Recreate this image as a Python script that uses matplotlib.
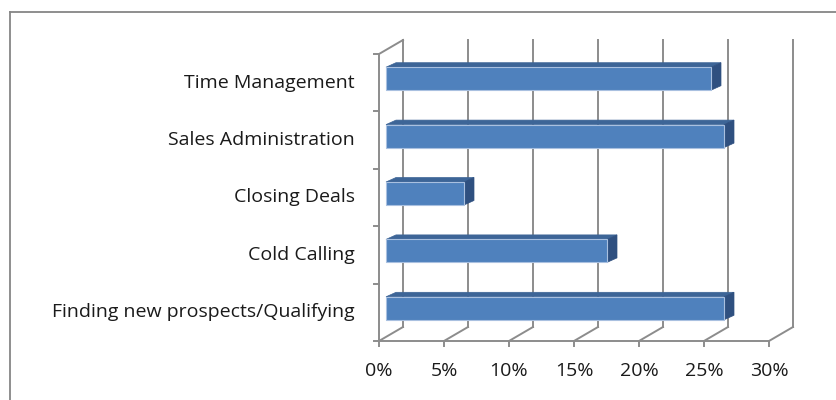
import numpy as np
import matplotlib
matplotlib.use("Agg")
import matplotlib.pyplot as plt
from matplotlib.patches import Polygon, Rectangle

# data (bottom to top, like the chart)
categories = ["Finding new prospects/Qualifying", "Cold Calling", "Closing Deals",
              "Sales Administration", "Time Management"]
values = [26, 17, 6, 26, 25]          # percent
xticks = [0, 5, 10, 15, 20, 25, 30]
xticklabels = ["0%", "5%", "10%", "15%", "20%", "25%", "30%"]

# pixel layout of the picture
W, H = 837, 400
x0_px, px_per_pct = 379, 13.0        # front plane: 0% at x=379
base_px, px_per_cat = 341, 57.4      # front plane bottom, height of one category

def cx(px):  # pixel x -> data x
    return (px - x0_px) / px_per_pct

def cy(py):  # pixel y -> data y
    return (base_px - py) / px_per_cat

# 3D offsets (pixels converted to data units)
wall_dx, wall_dy = 24 / px_per_pct, 14 / px_per_cat
bar_off_dx, bar_off_dy = 7 / px_per_pct, 4 / px_per_cat
bar_dx, bar_dy = 10 / px_per_pct, 4.5 / px_per_cat
bar_h = 23 / px_per_cat

grid_col = "#8c8c8c"
front_col = "#4f81bd"
top_col = "#3d6597"
side_col = "#2f5080"

plt.rcParams['font.family'] = ['Open Sans', 'DejaVu Sans']
fig = plt.figure(figsize=(W / 100, H / 100), dpi=100)
ax = fig.add_axes([0, 0, 1, 1])
ax.set_xlim(cx(0), cx(W))
ax.set_ylim(cy(H), cy(0))
ax.axis("off")

n = len(categories)
top = n

# back wall gridlines and floor
for k in xticks:
    ax.plot([k + wall_dx, k + wall_dx], [wall_dy, top + wall_dy], color=grid_col, lw=1.4, zorder=1)
    ax.plot([k, k + wall_dx], [0, wall_dy], color=grid_col, lw=1.4, zorder=1)
    ax.plot([k, k], [0, cy(base_px + 5)], color=grid_col, lw=1.4, zorder=1)
ax.plot([0, xticks[-1]], [0, 0], color=grid_col, lw=1.4, zorder=1)
# left wall edge
ax.plot([0, 0], [0, top], color=grid_col, lw=1.4, zorder=1)
ax.plot([0, wall_dx], [top, top + wall_dy], color=grid_col, lw=1.4, zorder=1)
for c in range(n + 1):
    ax.plot([cx(x0_px - 5), 0], [c, c], color=grid_col, lw=1.4, zorder=1)

# bars
for i, v in enumerate(values):
    xa = bar_off_dx
    yb = i + 0.5 + bar_off_dy - bar_h / 2
    yt = yb + bar_h
    ax.add_patch(Polygon([(xa, yt), (xa + v, yt), (xa + v + bar_dx, yt + bar_dy), (xa + bar_dx, yt + bar_dy)],
                         closed=True, fc=top_col, ec=top_col, lw=0.5, zorder=3))
    ax.add_patch(Polygon([(xa + v, yb), (xa + v, yt), (xa + v + bar_dx, yt + bar_dy), (xa + v + bar_dx, yb + bar_dy)],
                         closed=True, fc=side_col, ec=side_col, lw=0.5, zorder=3))
    ax.add_patch(Rectangle((xa, yb), v, bar_h, fc=front_col, ec="#a9c0e0", lw=0.8, zorder=4))

# labels
for i, name in enumerate(categories):
    ax.text(cx(355), i + 0.5, name, ha="right", va="center", fontsize=14, color="#1a1a1a")
for k, lab in zip(xticks, xticklabels):
    ax.text(k, cy(371), lab, ha="center", va="center", fontsize=14, color="#1a1a1a")

# outer chart border (only left and top are visible in the crop)
fig.add_artist(plt.Line2D([10 / W, 10 / W], [0, 1 - 12 / H], transform=fig.transFigure, color="#868686", lw=1.3))
fig.add_artist(plt.Line2D([10 / W, 1], [1 - 12 / H, 1 - 12 / H], transform=fig.transFigure, color="#868686", lw=1.3))

fig.savefig("out.png", dpi=100, facecolor="white")
